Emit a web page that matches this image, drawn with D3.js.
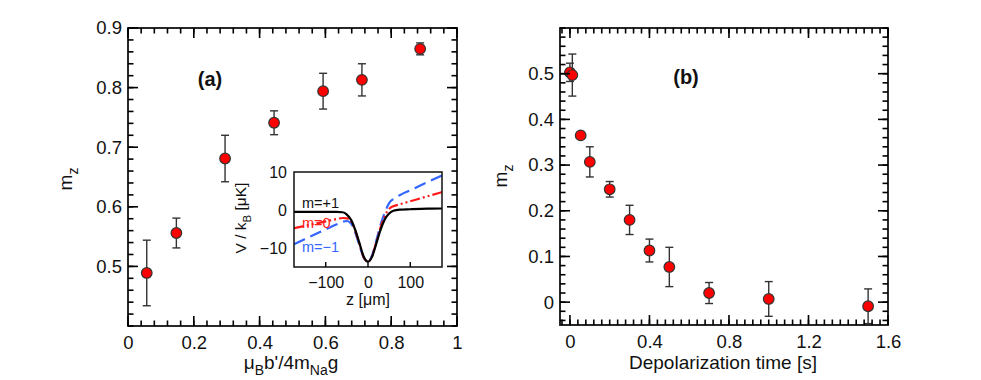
<!DOCTYPE html>
<html>
<head>
<meta charset="utf-8">
<script src="https://cdn.jsdelivr.net/npm/d3@7"></script>
<style>
    svg text { font-family: "Liberation Sans", Arial, Helvetica, sans-serif; fill: #111; }
</style>
</head>
<body style="margin:0">
<svg id="visualisation" width="981" height="380"></svg>
<script>
// panel (a): m_z vs mu_B b'/4 m_Na g
var gradRatio = [0.057, 0.147, 0.295, 0.444, 0.593, 0.711, 0.888];
var mzA = [0.489, 0.556, 0.681, 0.741, 0.794, 0.813, 0.865];
var errA = [0.055, 0.025, 0.039, 0.020, 0.030, 0.027, 0.010];
var ticksAx = [0, 0.2, 0.4, 0.6, 0.8, 1];
var ticksAy = [0.5, 0.6, 0.7, 0.8, 0.9];

// inset: potentials V/k_B [uK] vs z [um]
var zInset = [-175, -150, -125, -100, -75, -60, -50, -40, -30, -20, -10, 0, 10, 20, 30, 40, 50, 60, 75, 100, 125, 150, 175];
var vPlus1 = [-0.5, -0.5, -0.5, -0.5, -0.5, -0.6, -1.2, -2.6, -5.3, -8.8, -12.3, -13.6, -12.2, -8.7, -5.1, -2.4, -0.9, -0.2, 0.1, 0.2, 0.3, 0.35, 0.4];
var vZero = [-4.8, -4.2, -3.6, -3.0, -2.4, -2.1, -2.2, -3.0, -5.5, -9.1, -12.5, -13.6, -12.0, -8.3, -4.5, -1.5, 0.3, 1.0, 1.5, 2.3, 3.1, 3.9, 4.7];
var vMinus1 = [-9.0, -7.7, -6.4, -5.1, -3.8, -3.1, -2.9, -3.6, -6.0, -9.4, -12.6, -13.6, -11.8, -7.9, -3.8, -0.6, 1.8, 2.9, 3.9, 5.2, 6.5, 7.8, 9.1];
var ticksInsetX = [-100, 0, 100];
var ticksInsetY = [-10, 0, 10];

// panel (b): m_z vs depolarization time
var depolTime = [0.0, 0.012, 0.054, 0.1, 0.2, 0.3, 0.4, 0.5, 0.7, 1.0, 1.5];
var mzB = [0.503, 0.497, 0.365, 0.307, 0.247, 0.180, 0.113, 0.077, 0.020, 0.007, -0.009];
var errB = [0.020, 0.046, 0.004, 0.033, 0.017, 0.032, 0.025, 0.043, 0.023, 0.038, 0.038];
var ticksBx = [0, 0.4, 0.8, 1.2, 1.6];
var ticksBy = [0, 0.1, 0.2, 0.3, 0.4, 0.5];

(() => {
    'use strict';

    var vis = d3.select("#visualisation");
    var fmt = function(d) { return d3.format("")(+d.toFixed(2)); };
    var tickLayer; // created last, so the marks sit on top of everything

    function minorRange(a, b, step) {
        var out = [];
        for (var i = Math.round(a / step); i <= Math.round(b / step); i++) out.push(+(i * step).toFixed(4));
        return out;
    }

    function frame(xScale, yScale, opt) {
        var L = xScale.range()[0], R = xScale.range()[1],
            B = yScale.range()[0], T = yScale.range()[1];
        var g = vis.append("g");
        g.append("rect")
            .attr("x", L).attr("y", T).attr("width", R - L).attr("height", B - T)
            .attr("fill", "none").attr("stroke", "#111").attr("stroke-width", 1.8);

        g.append("g").attr("transform", "translate(0," + B + ")")
            .call(d3.axisBottom(xScale).tickValues(opt.majorX).tickSize(0).tickPadding(10).tickFormat(fmt));
        g.append("g").attr("transform", "translate(" + L + ",0)")
            .call(d3.axisLeft(yScale).tickValues(opt.majorY).tickSize(0).tickPadding(6).tickFormat(fmt));
        g.selectAll(".domain").remove();
        g.selectAll(".tick line").remove();
        g.selectAll(".tick text").style("font-size", "18.5px").attr("fill", "#111");
        return { x: xScale, y: yScale, L: L, R: R, B: B, T: T, opt: opt };
    }

    function drawTicks(f) {
        var m = tickLayer.append("g").attr("stroke", "#000").attr("stroke-width", 1.6);
        [[f.opt.minorX, 5.5], [f.opt.majorX, 10]].forEach(function(p) {
            p[0].forEach(function(v) {
                var x = f.x(v);
                m.append("line").attr("x1", x).attr("x2", x).attr("y1", f.B).attr("y2", f.B - p[1]);
                m.append("line").attr("x1", x).attr("x2", x).attr("y1", f.T).attr("y2", f.T + p[1]);
            });
        });
        [[f.opt.minorY, 5.5], [f.opt.majorY, 10]].forEach(function(p) {
            p[0].forEach(function(v) {
                var y = f.y(v);
                m.append("line").attr("x1", f.L).attr("x2", f.L + p[1]).attr("y1", y).attr("y2", y);
                m.append("line").attr("x1", f.R).attr("x2", f.R - p[1]).attr("y1", y).attr("y2", y);
            });
        });
    }

    function points(xs, ys, errs, xScale, yScale) {
        var g = vis.append("g");
        xs.forEach(function(x, i) {
            var cx = xScale(x),
                y0 = yScale(ys[i] - errs[i]),
                y1 = yScale(ys[i] + errs[i]);
            var e = g.append("g").attr("stroke", "#333").attr("stroke-width", 1.4);
            e.append("line").attr("x1", cx).attr("x2", cx).attr("y1", y0).attr("y2", y1);
            e.append("line").attr("x1", cx - 4).attr("x2", cx + 4).attr("y1", y0).attr("y2", y0);
            e.append("line").attr("x1", cx - 4).attr("x2", cx + 4).attr("y1", y1).attr("y2", y1);
            g.append("circle")
                .attr("cx", cx).attr("cy", yScale(ys[i])).attr("r", 5.3)
                .attr("fill", "#f00").attr("stroke", "#333").attr("stroke-width", 1.2);
        });
    }

    function InitChart() {
        // ---------- panel (a)
        var xA = d3.scaleLinear().domain([0, 1]).range([128, 457]),
            yA = d3.scaleLinear().domain([0.4, 0.9]).range([326, 28]);
        var fA = frame(xA, yA, {
            majorX: ticksAx, majorY: ticksAy,
            minorX: minorRange(0, 1, 0.04), minorY: minorRange(0.4, 0.9, 0.02)
        });
        points(gradRatio, mzA, errA, xA, yA);

        vis.append("text").attr("x", 210).attr("y", 86).attr("text-anchor", "middle")
            .style("font-size", "20px").style("font-weight", "bold").text("(a)");

        var tA = vis.append("text").attr("x", 291).attr("y", 369).attr("text-anchor", "middle")
            .style("font-size", "19px");
        tA.append("tspan").text("\u03bc");
        tA.append("tspan").attr("dy", 6).style("font-size", "14px").text("B");
        tA.append("tspan").attr("dy", -6).text("b'/4m");
        tA.append("tspan").attr("dy", 6).style("font-size", "14px").text("Na");
        tA.append("tspan").attr("dy", -6).text("g");

        var yLabA = vis.append("text").attr("transform", "translate(72,179) rotate(-90)")
            .attr("text-anchor", "middle").style("font-size", "19px");
        yLabA.append("tspan").text("m");
        yLabA.append("tspan").attr("dy", 6).style("font-size", "14px").text("z");

        // ---------- inset
        var xI = d3.scaleLinear().domain([-175, 175]).range([294, 442]),
            yI = d3.scaleLinear().domain([-15, 10]).range([267, 172]);
        var inset = vis.append("g");
        inset.append("rect").attr("x", 294).attr("y", 172).attr("width", 148).attr("height", 95)
            .attr("fill", "#fff");
        var defs = vis.append("defs");
        defs.append("clipPath").attr("id", "insetClip")
            .append("rect").attr("x", 294).attr("y", 172).attr("width", 148).attr("height", 95);

        var lineGen = function(vals) {
            return d3.line()
                .x(function(d, i) { return xI(zInset[i]); })
                .y(function(d) { return yI(d); })
                .curve(d3.curveMonotoneX)(vals);
        };
        var curves = inset.append("g").attr("clip-path", "url(#insetClip)");
        curves.append("path").attr("d", lineGen(vMinus1))
            .attr("fill", "none").attr("stroke", "#3366ff").attr("stroke-width", 2.2)
            .attr("stroke-dasharray", "12,6");
        curves.append("path").attr("d", lineGen(vZero))
            .attr("fill", "none").attr("stroke", "#ff1a1a").attr("stroke-width", 2.2)
            .attr("stroke-dasharray", "10,3,2,3,2,3");
        curves.append("path").attr("d", lineGen(vPlus1))
            .attr("fill", "none").attr("stroke", "#000").attr("stroke-width", 2.2);

        inset.append("rect").attr("x", 294).attr("y", 172).attr("width", 148).attr("height", 95)
            .attr("fill", "none").attr("stroke", "#111").attr("stroke-width", 1.5);
        inset.append("g").attr("transform", "translate(0,267)")
            .call(d3.axisBottom(xI).tickValues(ticksInsetX).tickSize(0).tickPadding(10));
        inset.append("g").attr("transform", "translate(294,0)")
            .call(d3.axisLeft(yI).tickValues(ticksInsetY).tickSize(0).tickPadding(7));
        inset.selectAll(".domain").remove();
        inset.selectAll(".tick line").remove();
        inset.selectAll(".tick text").style("font-size", "16px").attr("fill", "#111");

        inset.append("text").attr("x", 302).attr("y", 208).style("font-size", "14.5px")
            .text("m=+1");
        inset.append("text").attr("x", 302).attr("y", 228).style("font-size", "14.5px")
            .style("fill", "#ff1a1a").text("m=0");
        inset.append("text").attr("x", 302).attr("y", 252).style("font-size", "14.5px")
            .style("fill", "#3366ff").text("m=\u22121");

        inset.append("text").attr("x", 368).attr("y", 305).attr("text-anchor", "middle")
            .style("font-size", "16px").text("z [\u03bcm]");
        var yLabI = inset.append("text").attr("transform", "translate(246,218) rotate(-90)")
            .attr("text-anchor", "middle").style("font-size", "15.5px");
        yLabI.append("tspan").text("V / k");
        yLabI.append("tspan").attr("dy", 5).style("font-size", "11.5px").text("B");
        yLabI.append("tspan").attr("dy", -5).text(" [\u03bcK]");

        // ---------- panel (b)
        var xB = d3.scaleLinear().domain([-0.05, 1.6]).range([560, 888]),
            yB = d3.scaleLinear().domain([-0.05, 0.6]).range([325, 28]);
        var fB = frame(xB, yB, {
            majorX: ticksBx, majorY: ticksBy,
            minorX: minorRange(-0.04, 1.6, 0.04), minorY: minorRange(-0.04, 0.6, 0.02)
        });
        points(depolTime, mzB, errB, xB, yB);

        vis.append("text").attr("x", 686).attr("y", 84).attr("text-anchor", "middle")
            .style("font-size", "20px").style("font-weight", "bold").text("(b)");
        vis.append("text").attr("x", 723).attr("y", 369).attr("text-anchor", "middle")
            .style("font-size", "19px").text("Depolarization time [s]");
        var yLabB = vis.append("text").attr("transform", "translate(507,176) rotate(-90)")
            .attr("text-anchor", "middle").style("font-size", "19px");
        yLabB.append("tspan").text("m");
        yLabB.append("tspan").attr("dy", 6).style("font-size", "14px").text("z");

        // ---------- tick marks, on top
        tickLayer = vis.append("g");
        drawTicks(fA);
        drawTicks(fB);
        var im = tickLayer.append("g").attr("stroke", "#000").attr("stroke-width", 1.4);
        ticksInsetX.forEach(function(v) {
            im.append("line").attr("x1", xI(v)).attr("x2", xI(v)).attr("y1", 267).attr("y2", 262);
        });
    }
    InitChart();
})();
</script>
</body>
</html>
